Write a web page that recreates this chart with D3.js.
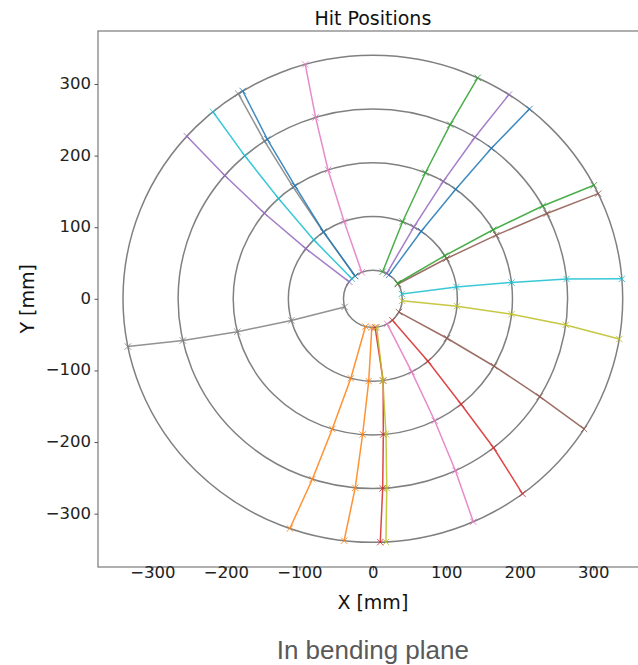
<!DOCTYPE html>
<html>
  <head>
    <meta charset="utf-8">
    <script src="https://d3js.org/d3.v7.min.js"></script>
    <style>
      body { margin: 0; background: #fff; }
      svg { display: block; }
      .tick text { font-family: "DejaVu Sans", sans-serif; font-size: 16.5px; fill: #222; }
      .tick line { stroke: #555; }
      .domain { display: none; }
      .lbl { font-family: "DejaVu Sans", sans-serif; font-size: 19px; fill: #111; }
      .caption { font-family: "Liberation Sans", Arial, sans-serif; font-size: 26px; fill: #595959; }
    </style>
  </head>
  <body>
    <div id="chart"></div>
    <script>
      // detector layers (mm)
      var radii = [40, 115, 190, 265, 340]
      var ticks = [-300, -200, -100, 0, 100, 200, 300]

      // hit azimuth (deg) of each track at each layer
      var trackPhi = [
        [56.6, 55.1, 53.6, 52.5, 51.2],
        [-104.5, -105.1, -106.9, -108.1, -109.4],
        [70.6, 69.4, 67.9, 66.6, 65.2],
        [-48.3, -49.3, -50.8, -51.7, -53.2],
        [62.0, 60.9, 59.7, 58.4, 57.0],
        [31.1, 29.3, 27.9, 26.7, 25.6],
        [112.2, 109.9, 108.7, 107.1, 105.7],
        [127.5, 125.8, 124.8, 123.8, 122.6],
        [-4.0, -5.1, -6.5, -7.9, -9.5],
        [9.9, 8.3, 6.9, 6.0, 4.7],
        [127.0, 125.7, 123.9, 122.8, 121.4],
        [-92.0, -92.8, -94.2, -95.2, -96.6],
        [32.9, 31.6, 30.5, 29.3, 27.8],
        [-85.6, -83.0, -85.7, -87.1, -88.3],
        [143.5, 142.5, 141.0, 139.5, 138.1],
        [-27.5, -28.6, -29.7, -31.0, -32.3],
        [-61.0, -62.6, -63.7, -64.9, -66.3],
        [-163.5, -164.8, -166.0, -167.3, -168.7],
        [-82.4, -83.2, -84.6, -85.9, -87.0],
        [135.5, 134.3, 132.5, 131.1, 129.8]
      ]

      var W = 638, H = 665
      var svg = d3.select("#chart").append("svg")
        .attr("width", W).attr("height", H)

      var x = d3.scaleLinear().domain([-374, 374]).range([98, 647.7])
      var y = d3.scaleLinear().domain([-374.5, 374]).range([567, 31])
      var color = d3.scaleOrdinal(d3.schemeCategory10)

      // layer circles
      svg.append("g").selectAll("ellipse").data(radii).enter()
        .append("ellipse")
        .attr("cx", x(0)).attr("cy", y(0))
        .attr("rx", function(r){ return x(r) - x(0) })
        .attr("ry", function(r){ return y(0) - y(r) })
        .attr("fill", "none")
        .attr("stroke", "#808080")
        .attr("stroke-width", 1.5)

      var tracks = trackPhi.map(function(phis){
        return phis.map(function(p, i){
          var a = p * Math.PI / 180
          return [radii[i] * Math.cos(a), radii[i] * Math.sin(a)]
        })
      })

      var line = d3.line().x(function(d){ return x(d[0]) }).y(function(d){ return y(d[1]) })

      var tg = svg.append("g")
      tracks.forEach(function(t, i){
        var c = color(i)
        tg.append("path")
          .attr("d", line(t))
          .attr("fill", "none")
          .attr("stroke", c)
          .attr("stroke-opacity", 0.85)
          .attr("stroke-width", 1.5)
        var m = 3.2
        tg.selectAll(null).data(t).enter().append("path")
          .attr("d", function(d){
            var px = x(d[0]), py = y(d[1])
            return "M" + (px - m) + "," + (py - m) + "L" + (px + m) + "," + (py + m) +
                   "M" + (px - m) + "," + (py + m) + "L" + (px + m) + "," + (py - m)
          })
          .attr("stroke", c)
          .attr("stroke-opacity", 0.8)
          .attr("stroke-width", 1)
      })

      // frame
      svg.append("rect")
        .attr("x", x(-374)).attr("y", y(374))
        .attr("width", x(374) - x(-374)).attr("height", y(-374.5) - y(374))
        .attr("fill", "none").attr("stroke", "#7a7a7a").attr("stroke-width", 1.2)

      var fmt = function(d){ return d < 0 ? "\u2212" + Math.abs(d) : "" + d }

      svg.append("g")
        .attr("transform", "translate(0," + y(-374.5) + ")")
        .call(d3.axisBottom(x).tickValues(ticks).tickFormat(fmt).tickSize(3.5).tickPadding(3))
      svg.append("g")
        .attr("transform", "translate(" + x(-374) + ",0)")
        .call(d3.axisLeft(y).tickValues(ticks).tickFormat(fmt).tickSize(3.5).tickPadding(3.5))
      svg.selectAll(".tick text").attr("dy", null)
      svg.selectAll(".tick text").attr("dominant-baseline", "middle")
      svg.selectAll(".x-t")

      svg.append("text").attr("class", "lbl")
        .attr("x", x(0)).attr("y", 25)
        .attr("text-anchor", "middle").text("Hit Positions")
      svg.append("text").attr("class", "lbl")
        .attr("x", x(0)).attr("y", 609)
        .attr("text-anchor", "middle").text("X [mm]")
      svg.append("text").attr("class", "lbl")
        .attr("transform", "translate(34," + y(0) + ") rotate(-90)")
        .attr("text-anchor", "middle").text("Y [mm]")
      svg.append("text").attr("class", "caption")
        .attr("x", x(0)).attr("y", 659)
        .attr("text-anchor", "middle").text("In bending plane")
    </script>
  </body>
</html>
